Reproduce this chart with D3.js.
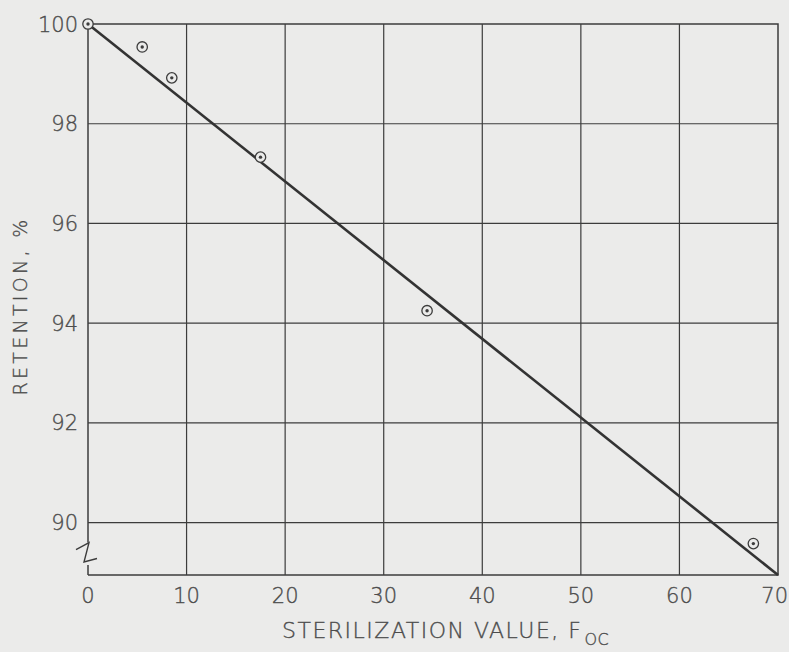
<!DOCTYPE html>
<html><head><meta charset="utf-8">
<script src="https://cdn.jsdelivr.net/npm/d3@7"></script>
<style>
html,body{margin:0;padding:0;background:#ebebea;}
svg{display:block;}
text{font-family:"DejaVu Sans",sans-serif;font-weight:200;fill:#4c4c4c;stroke:#4c4c4c;stroke-width:0.35px;}
</style></head>
<body>
<svg id="c" width="789" height="652"></svg>
<script>
const pointsX = [0, 5.5, 8.5, 17.5, 34.4, 67.5];
const pointsY = [100, 99.54, 98.92, 97.33, 94.25, 89.58];
const fitX = [0, 70];
const fitY = [100, 88.95];
const xTicks = [0, 10, 20, 30, 40, 50, 60, 70];
const yTicks = [90, 92, 94, 96, 98, 100];
const xTitle = "STERILIZATION VALUE, F";
const xTitleSub = "OC";
const yTitle = "RETENTION, %";

const svg = d3.select("#c");
const x = d3.scaleLinear().domain([0, 70]).range([88, 778]);
const y = d3.scaleLinear().domain([88.95, 100]).range([575, 24]);
const ink = "#3c3c3c";
const g = svg.append("g");

// grid
g.selectAll(".vg").data(xTicks.filter(d => d > 0 && d < 70)).join("line")
  .attr("x1", d => x(d)).attr("x2", d => x(d)).attr("y1", y(100)).attr("y2", y(88.95))
  .attr("stroke", ink).attr("stroke-width", 1.2);
g.selectAll(".hg").data(yTicks.filter(d => d < 100)).join("line")
  .attr("x1", x(0)).attr("x2", x(70)).attr("y1", d => y(d)).attr("y2", d => y(d))
  .attr("stroke", ink).attr("stroke-width", 1.2);
// frame: top, right, bottom
g.append("path").attr("fill", "none").attr("stroke", ink).attr("stroke-width", 1.5)
  .attr("d", `M${x(0)},${y(100)}H${x(70)}V${y(88.95)}H${x(0)}`);
// left axis with break
const bTop = y(89.6), bBot = y(89.15);
g.append("path").attr("fill", "none").attr("stroke", ink).attr("stroke-width", 1.5)
  .attr("d", `M${x(0)},${y(100)}V${bTop}`);
g.append("path").attr("fill", "none").attr("stroke", ink).attr("stroke-width", 1.5)
  .attr("d", `M${x(0)},${bBot}V${y(88.95)}`);
g.append("path").attr("fill", "none").attr("stroke", ink).attr("stroke-width", 1.4)
  .attr("d", `M${x(0)-12},${y(89.46)} L${x(0)+1},${bTop} L${x(0)-4},${bBot-3} L${x(0)+9},${y(89.28)}`);

// fit line
g.append("line").attr("x1", x(fitX[0])).attr("y1", y(fitY[0]))
  .attr("x2", x(fitX[1])).attr("y2", y(fitY[1]))
  .attr("stroke", "#333").attr("stroke-width", 2.6);

// points
const pts = pointsX.map((d, i) => [d, pointsY[i]]);
g.selectAll(".pc").data(pts).join("circle")
  .attr("cx", d => x(d[0])).attr("cy", d => y(d[1])).attr("r", 5.2)
  .attr("fill", "#ebebea").attr("stroke", ink).attr("stroke-width", 1.3);
g.selectAll(".pd").data(pts).join("circle")
  .attr("cx", d => x(d[0])).attr("cy", d => y(d[1])).attr("r", 1.7)
  .attr("fill", ink);

// tick labels
g.selectAll(".xt").data(xTicks).join("text")
  .attr("x", d => d === 70 ? 788 : x(d)).attr("y", 603)
  .attr("text-anchor", d => d === 70 ? "end" : "middle")
  .attr("font-size", 21).text(d => d);
g.selectAll(".yt").data(yTicks).join("text")
  .attr("x", 78).attr("y", d => y(d) + 7.5).attr("text-anchor", "end")
  .attr("font-size", 21).text(d => d);

// titles
const xt = g.append("text").attr("x", 282).attr("y", 638).attr("text-anchor", "start")
  .attr("font-size", 22).attr("letter-spacing", 1.5);
xt.append("tspan").text(xTitle);
xt.append("tspan").attr("font-size", 16).attr("dy", 7).attr("dx", 2).attr("letter-spacing", 0.5).text(xTitleSub);

g.append("text").attr("transform", "translate(27,306) rotate(-90)")
  .attr("text-anchor", "middle").attr("font-size", 19).attr("letter-spacing", 3.3)
  .text(yTitle);
</script>
</body></html>
